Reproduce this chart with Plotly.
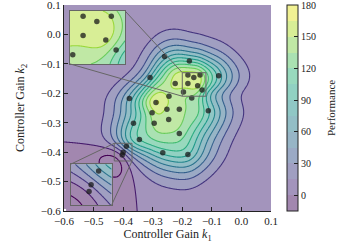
import numpy as np
import plotly.graph_objects as go
from plotly.colors import sample_colorscale

# ---- data ----
k1 = [-0.260, -0.176, -0.309, -0.181, -0.161, -0.140, -0.181, -0.148, -0.133, -0.077,
      -0.224, -0.196, -0.168, -0.245, -0.379, -0.289, -0.302, -0.252, -0.210, -0.112,
      -0.295, -0.246, -0.365, -0.210, -0.345, -0.266, -0.181, -0.389, -0.400, -0.403]
k2 = [-0.075, -0.090, -0.146, -0.138, -0.146, -0.138, -0.167, -0.174, -0.189, -0.140,
      -0.167, -0.196, -0.216, -0.210, -0.218, -0.231, -0.266, -0.254, -0.254, -0.259,
      -0.302, -0.289, -0.302, -0.337, -0.357, -0.402, -0.408, -0.380, -0.400, -0.410]
perf = [68, 100, 75, 168, 152, 150, 148, 178, 110, 85,
        160, 142, 135, 145, 65, 172, 140, 145, 140, 95,
        140, 145, 90, 130, 105, 95, 92, 60, 10, 5]

levels_start, levels_end, levels_step = -15, 180, 15
cbar_ticks = [0, 30, 60, 90, 120, 150, 180]
x_range = [-0.6, 0.1]
y_range = [-0.6, 0.1]
axis_ticks = [-0.6, -0.5, -0.4, -0.3, -0.2, -0.1, 0.0, 0.1]
inset1_k1 = [-0.20, -0.12]
inset1_k2 = [-0.21, -0.13]
inset2_k1 = [-0.43, -0.37]
inset2_k2 = [-0.43, -0.37]

# ---- surrogate surface (GP mean, product Matern-5/2 kernel, built from the samples) ----
X = np.column_stack([k1, k2])
yv = np.array(perf, dtype=float)
ell = 0.07
def m52(d):
    r = np.sqrt(5.0) * np.abs(d) / ell
    return (1 + r + r * r / 3.0) * np.exp(-r)
def kern(A, B):
    return m52(A[:, None, 0] - B[None, :, 0]) * m52(A[:, None, 1] - B[None, :, 1])
Kxx = kern(X, X) + 0.03 * np.eye(len(X))
weights = np.linalg.solve(Kxx, yv)

def surface(xr, yr, n):
    gx = np.linspace(xr[0], xr[1], n)
    gy = np.linspace(yr[0], yr[1], n)
    GX, GY = np.meshgrid(gx, gy)
    G = np.column_stack([GX.ravel(), GY.ravel()])
    return gx, gy, (kern(G, X) @ weights).reshape(GX.shape)

# ---- colours: viridis washed at 50 % over white, one colour per 15-wide band ----
lo, hi, st = levels_start, levels_end, levels_step
mids = np.arange(lo + st / 2, hi, st)
def blend(c, a=0.5):
    r, g, b = [float(v) for v in c.strip('rgb()').split(',')]
    return 'rgb(%d,%d,%d)' % (r * a + 255 * (1 - a), g * a + 255 * (1 - a), b * a + 255 * (1 - a))
band_cols = [blend(c) for c in sample_colorscale('Viridis', list((mids - lo) / (hi - lo)))]
nb = len(band_cols)
step_scale = []
for i, c in enumerate(band_cols):
    step_scale.append([i / nb, c])
    step_scale.append([(i + 1) / nb, c])
band_scale = [[i / (nb - 1), c] for i, c in enumerate(band_cols)]

fig = go.Figure()

def add_contours(xa, ya, xr, yr, n):
    gx, gy, Z = surface(xr, yr, n)
    fig.add_trace(go.Contour(
        x=gx, y=gy, z=Z, xaxis=xa, yaxis=ya, colorscale=band_scale, autocontour=False,
        contours=dict(start=lo + st, end=hi - st, size=st, coloring='fill'),
        line=dict(width=0), showscale=False, hoverinfo='skip'))
    fig.add_trace(go.Contour(
        x=gx, y=gy, z=Z, xaxis=xa, yaxis=ya,
        colorscale='Viridis', autocontour=False,
        contours=dict(start=lo, end=hi, size=st, coloring='lines'),
        line=dict(width=1.1), showscale=False, hoverinfo='skip'))
    fig.add_trace(go.Scatter(
        x=k1, y=k2, xaxis=xa, yaxis=ya, mode='markers', hoverinfo='skip',
        marker=dict(size=5.5, color='rgba(25,25,25,0.75)', line=dict(width=0)), showlegend=False))

add_contours('x', 'y', x_range, y_range, 300)
add_contours('x2', 'y2', inset1_k1, inset1_k2, 90)
add_contours('x3', 'y3', inset2_k1, inset2_k2, 90)

# colour bar (banded legend of the level range) on a hidden axis pair
fig.add_trace(go.Heatmap(
    z=[[lo, hi]], xaxis='x4', yaxis='y4', colorscale=step_scale, zmin=lo, zmax=hi, opacity=0,
    hoverinfo='skip',
    colorbar=dict(x=1.077, xanchor='left', xpad=0, thickness=11, len=1, lenmode='fraction',
                  y=0.5, yanchor='middle', ypad=0, outlinewidth=1, outlinecolor='#222',
                  tickvals=cbar_ticks, ticks='inside', ticklen=4, tickcolor='#222',
                  ticklabeloverflow='allow', tickfont=dict(size=10, color='#222'))))

font = 'Liberation Serif'
axis_common = dict(ticks='inside', ticklen=4, tickcolor='#222', showline=True, linecolor='#222',
                   linewidth=1, showgrid=False, zeroline=False, tickfont=dict(size=11, color='#222'),
                   ticklabeloverflow='allow',
                   tickvals=axis_ticks, ticktext=[('%.1f' % v).replace('-', '\u2212') for v in axis_ticks])

ins1 = dict(x=[0.029, 0.295], y=[0.714, 0.971])
ins2 = dict(x=[0.032, 0.230], y=[0.029, 0.227])
frame = dict(showline=True, mirror=True, linecolor='#666', linewidth=1, ticks='', showticklabels=False,
             showgrid=False, zeroline=False)

fig.update_layout(
    width=339, height=244, margin=dict(l=64, r=68, t=5, b=33, autoexpand=False),
    paper_bgcolor='white', plot_bgcolor='white', showlegend=False,
    font=dict(family=font, color='#222'),
    xaxis=dict(range=x_range, title=dict(text='Controller Gain <i>k</i><sub>1</sub>', font=dict(size=12), standoff=2), **axis_common),
    yaxis=dict(range=y_range, title=dict(text='Controller Gain <i>k</i><sub>2</sub>', font=dict(size=12), standoff=13), **axis_common),
    xaxis2=dict(domain=ins1['x'], range=inset1_k1, anchor='y2', **frame),
    yaxis2=dict(domain=ins1['y'], range=inset1_k2, anchor='x2', **frame),
    xaxis3=dict(domain=ins2['x'], range=inset2_k1, anchor='y3', **frame),
    yaxis3=dict(domain=ins2['y'], range=inset2_k2, anchor='x3', **frame),
    xaxis4=dict(domain=[0, 0.01], visible=False, anchor='y4'),
    yaxis4=dict(domain=[0, 0.01], visible=False, anchor='x4'),
    annotations=[dict(text='Performance', textangle=-90, xref='paper', yref='paper', x=1.29, y=0.5,
                      xanchor='center', yanchor='middle', showarrow=False, font=dict(size=11, color='#222'))],
)

def px(v, r):
    return (v - r[0]) / (r[1] - r[0])

line = dict(color='#666', width=1)
for xr, yr in [(inset1_k1, inset1_k2), (inset2_k1, inset2_k2)]:
    fig.add_shape(type='rect', xref='x', yref='y', x0=xr[0], x1=xr[1], y0=yr[0], y1=yr[1], line=line)
fig.add_shape(type='line', xref='paper', yref='paper', x0=ins1['x'][1], y0=ins1['y'][1],
              x1=px(inset1_k1[0], x_range), y1=px(inset1_k2[1], y_range), line=line)
fig.add_shape(type='line', xref='paper', yref='paper', x0=ins1['x'][0], y0=ins1['y'][0],
              x1=px(inset1_k1[0], x_range), y1=px(inset1_k2[0], y_range), line=line)
fig.add_shape(type='line', xref='paper', yref='paper', x0=ins2['x'][0], y0=ins2['y'][1],
              x1=px(inset2_k1[0], x_range), y1=px(inset2_k2[1], y_range), line=line)
fig.add_shape(type='line', xref='paper', yref='paper', x0=ins2['x'][1], y0=ins2['y'][0],
              x1=px(inset2_k1[1], x_range), y1=px(inset2_k2[0], y_range), line=line)

fig.write_html('out.html', config={'displayModeBar': False},
               post_script="document.body.style.margin='0';")
